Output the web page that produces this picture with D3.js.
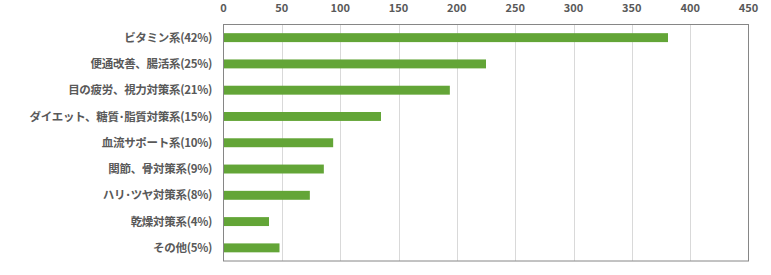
<!DOCTYPE html>
<html>
<head>
<meta charset="utf-8">
<script src="https://cdn.jsdelivr.net/npm/d3@7"></script>
<style>
  body { margin: 0; background: #fff; }
  svg { display: block; }
  .lbl { font-family: "Noto Sans CJK JP", sans-serif; font-weight: bold; fill: #595959; }
</style>
</head>
<body>
<div id="chart"></div>
<script>
const categories = [
  "ビタミン系(42%)",
  "便通改善、腸活系(25%)",
  "目の疲労、視力対策系(21%)",
  "ダイエット、糖質･脂質対策系(15%)",
  "血流サポート系(10%)",
  "関節、骨対策系(9%)",
  "ハリ･ツヤ対策系(8%)",
  "乾燥対策系(4%)",
  "その他(5%)"
];
const values = [381, 225, 194, 135, 94, 86, 74, 39, 48];
const ticks = [0, 50, 100, 150, 200, 250, 300, 350, 400, 450];

const w = 771;
const h = 275;
const plotLeft = 223.5, plotRight = 748.5, plotTop = 24.5, plotBottom = 261;

const svg = d3.select('#chart').append('svg')
  .attr('width', w)
  .attr('height', h);

const x = d3.scaleLinear().domain([0, 450]).range([plotLeft, plotRight]);
const y = d3.scaleBand().domain(categories).range([plotTop, plotBottom]).paddingInner(0.66).paddingOuter(0.33);

// gridlines
svg.append('g')
  .selectAll('line')
  .data(ticks.slice(1, -1))
  .enter()
  .append('line')
  .attr('x1', d => Math.round(x(d)) + 0.5)
  .attr('x2', d => Math.round(x(d)) + 0.5)
  .attr('y1', plotTop)
  .attr('y2', plotBottom)
  .attr('stroke', '#d9d9d9')
  .attr('stroke-width', 1);

// border
svg.append('rect')
  .attr('x', plotLeft)
  .attr('y', plotTop)
  .attr('width', plotRight - plotLeft)
  .attr('height', plotBottom - plotTop)
  .attr('fill', 'none')
  .attr('stroke', '#868686')
  .attr('stroke-width', 1);

// bars
svg.append('g')
  .selectAll('rect')
  .data(values)
  .enter()
  .append('rect')
  .attr('x', x(0) + 0.5)
  .attr('y', (d, i) => y(categories[i]))
  .attr('width', d => x(d) - x(0) - 0.5)
  .attr('height', y.bandwidth())
  .attr('fill', '#63a537');

// top axis labels
svg.append('g')
  .selectAll('text')
  .data(ticks)
  .enter()
  .append('text')
  .attr('class', 'lbl')
  .attr('x', d => x(d))
  .attr('y', 12)
  .attr('text-anchor', 'middle')
  .style('font-size', '11px')
  .text(d => d);

// category labels
svg.append('g')
  .selectAll('text')
  .data(categories)
  .enter()
  .append('text')
  .attr('class', 'lbl')
  .attr('x', 212)
  .attr('y', d => y(d) + y.bandwidth() / 2)
  .attr('dy', '0.36em')
  .attr('text-anchor', 'end')
  .style('font-size', '11.5px')
  .style('letter-spacing', '-0.3px')
  .text(d => d);
</script>
</body>
</html>
